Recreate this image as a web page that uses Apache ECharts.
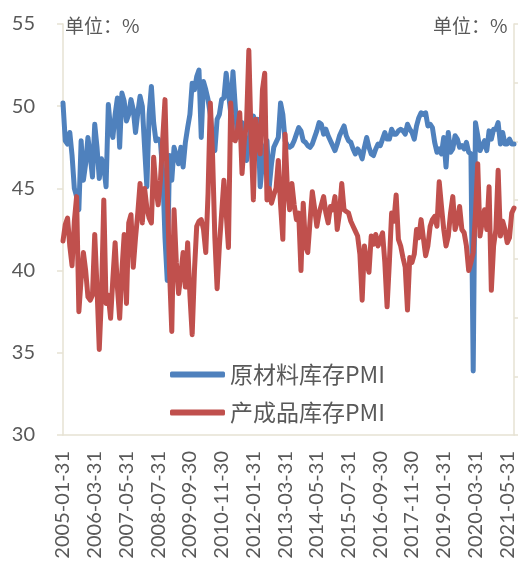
<!DOCTYPE html>
<html>
<head>
<meta charset="utf-8">
<script src="https://cdn.jsdelivr.net/npm/echarts@6/dist/echarts.min.js"></script>
<style>
  html, body { margin: 0; padding: 0; background: #ffffff; }
  #chart { width: 518px; height: 563px; }
</style>
</head>
<body>
<div id="chart"></div>
<script>
// Monthly series, 2005-01 through 2021-08
const startYear = 2005;
const startMonth = 1;
const monthCount = 200;

const seriesNames = ['原材料库存PMI', '产成品库存PMI'];

// 原材料库存PMI
const rawMaterialInv = [
  50.2, 47.9, 47.7, 48.4, 47.0, 45.0, 44.5, 43.7, 47.9, 45.5, 46.5, 48.1,
  47.0, 45.7, 48.9, 47.5, 45.6, 46.8, 46.3, 45.1, 50.1, 48.6, 48.1, 49.5,
  50.5, 47.5, 50.8, 50.3, 49.1, 49.5, 50.4, 49.8, 48.4, 49.6, 50.6, 50.0,
  47.5, 45.1, 49.5, 51.2, 49.0, 47.9, 48.0, 47.8, 46.0, 42.0, 39.4, 47.0,
  45.5, 47.5, 47.0, 46.5, 47.5, 46.3, 47.8, 48.7, 49.5, 51.4, 51.0, 51.8,
  52.2, 48.1, 51.5, 51.0, 50.4, 49.5, 47.8, 47.3, 49.2, 49.5, 50.4, 50.5,
  52.0, 50.8, 49.6, 52.1, 50.0, 48.1, 48.6, 49.0, 48.0, 46.7, 47.8, 49.0,
  49.4, 49.0, 49.2, 45.1, 46.5, 47.5, 47.9, 45.1, 46.5, 47.5, 47.8, 48.1,
  50.2, 49.5, 47.9, 47.6, 47.5, 47.6, 47.9, 48.3, 48.7, 48.5, 47.9, 47.8,
  47.6, 47.5, 47.7, 48.1, 48.5, 49.0, 48.9, 48.3, 48.6, 48.2, 47.9, 47.6,
  47.3, 47.7, 48.2, 48.5, 48.8, 48.2, 47.9, 47.8, 47.4, 47.1, 47.4, 47.2,
  46.8, 47.5, 48.1, 47.5, 47.1, 47.0, 47.4, 47.7, 47.6, 48.0, 48.4, 48.0,
  48.0, 48.6, 48.3, 48.3, 48.5, 48.6, 48.5, 48.3, 48.9, 48.6, 48.4, 48.0,
  48.8, 49.3, 49.6, 49.5, 49.6, 48.8, 48.9, 48.7, 47.8, 47.2, 47.4, 47.1,
  48.1, 46.3, 48.4, 47.2, 47.4, 48.2, 48.0, 47.5, 47.6, 47.4, 47.8, 47.2,
  47.1, 33.9, 49.0, 48.2, 47.3, 47.6, 47.9, 47.3, 48.5, 48.0, 48.6, 48.6,
  49.0, 47.7, 48.4, 47.7, 47.7, 48.0, 47.7, 47.7
];

// 产成品库存PMI
const finishedGoodsInv = [
  41.8, 42.8, 43.2, 41.5, 40.3, 43.0, 44.5, 37.5, 39.5, 41.1, 40.0, 38.4,
  38.2, 38.5, 42.2, 39.0, 35.2, 38.5, 44.3, 38.0, 38.5, 37.1, 39.5, 41.7,
  39.0, 37.1, 40.0, 42.2, 38.0, 42.9, 43.4, 40.2, 42.0, 43.5, 45.3, 42.9,
  45.0, 43.8, 43.2, 42.9, 46.9, 45.0, 44.0, 45.5, 48.0, 50.4, 45.0, 40.0,
  36.3, 43.7, 40.5, 38.6, 39.8, 41.1, 39.0, 41.7, 38.5, 36.1, 40.0, 42.7,
  43.0, 43.1, 42.5, 41.1, 44.7, 50.2, 47.0, 42.0, 38.9, 41.5, 43.5, 45.5,
  43.5, 41.4, 50.2, 48.0, 47.9, 48.5, 49.6, 45.9, 47.9, 49.0, 53.4, 48.0,
  44.3, 49.2, 48.0, 47.1, 51.0, 52.0, 44.3, 45.0, 44.1, 44.6, 45.0, 46.7,
  44.0, 41.9, 48.3, 45.0, 43.7, 45.3, 44.0, 43.1, 43.5, 40.0, 44.1, 41.5,
  41.1, 43.0, 44.8, 43.8, 42.7, 43.5, 44.0, 44.5, 43.5, 42.9, 43.9, 43.7,
  44.5, 42.5, 43.5, 45.3, 43.7, 43.6, 43.5, 43.0, 42.7, 42.4, 42.1, 41.0,
  38.2, 41.5, 40.5, 39.9, 42.1, 41.6, 42.2, 41.5, 41.9, 42.3, 40.5, 37.8,
  40.5, 43.5, 43.0, 44.6, 41.9, 41.5, 40.8, 40.2, 37.6, 40.8, 40.5, 41.0,
  42.5, 42.0, 43.1, 42.0, 40.9, 41.5, 42.7, 43.1, 43.3, 42.7, 45.4, 43.9,
  42.5, 41.5, 42.1, 43.5, 44.5, 42.5, 43.0, 43.9, 42.5, 42.3, 41.5, 40.0,
  40.5, 41.1, 43.5, 46.5, 42.1, 43.0, 43.7, 42.5, 45.1, 38.8, 41.5, 42.5,
  46.1, 42.1, 43.0, 42.5, 41.7, 42.0, 43.5, 43.8
];

const yTicks = { min: 30, max: 55, step: 5 };
const unitText = '单位：%';

// Month-end date labels for the category axis
function monthEnd(y, m) {
  const d = new Date(Date.UTC(y, m, 0)).getUTCDate();
  return y + '-' + String(m).padStart(2, '0') + '-' + String(d).padStart(2, '0');
}
const categories = [];
for (let k = 0; k < monthCount; k++) {
  const t = (startMonth - 1) + k;
  categories.push(monthEnd(startYear + Math.floor(t / 12), (t % 12) + 1));
}

const textColor = '#595959';
const axisColor = '#E6E2D3';
const latin = 'Lato, "Noto Sans", sans-serif';
const cjk = '"Noto Sans CJK SC", "Noto Sans", sans-serif';

const chart = echarts.init(document.getElementById('chart'), null, { renderer: 'canvas' });

chart.setOption({
  animation: false,
  backgroundColor: '#ffffff',
  grid: { left: 63, right: 4, top: 24, bottom: 128, containLabel: false },
  legend: {
    orient: 'vertical',
    left: 165,
    top: 356,
    itemWidth: 55,
    itemHeight: 6,
    itemGap: 11,
    icon: 'roundRect',
    data: seriesNames,
    textStyle: { color: textColor, fontSize: 23, fontFamily: cjk, lineHeight: 27, padding: [0, 0, 0, 0] }
  },
  xAxis: {
    type: 'category',
    boundaryGap: false,
    data: categories,
    axisLine: { show: true, lineStyle: { color: axisColor, width: 1.5 } },
    axisTick: { show: false },
    axisLabel: {
      interval: 13,
      rotate: 90,
      margin: 16,
      color: textColor,
      fontSize: 20,
      fontFamily: latin
    },
    splitLine: { show: false }
  },
  yAxis: [
    {
      type: 'value',
      position: 'left',
      min: yTicks.min,
      max: yTicks.max,
      interval: yTicks.step,
      axisLine: { show: true, lineStyle: { color: axisColor, width: 1.5 } },
      axisTick: { show: true, inside: false, length: 6, lineStyle: { color: axisColor, width: 1.5 } },
      axisLabel: { color: textColor, fontSize: 20, fontFamily: latin, margin: 28 },
      splitLine: { show: false }
    },
    {
      type: 'value',
      position: 'right',
      min: 0,
      max: 7,
      interval: 1,
      axisLine: { show: true, lineStyle: { color: axisColor, width: 1.5 } },
      axisTick: { show: true, inside: false, length: 5, lineStyle: { color: axisColor, width: 1.5 } },
      axisLabel: { show: false },
      splitLine: { show: false }
    }
  ],
  graphic: [
    {
      type: 'text',
      left: 65,
      top: 16,
      style: { text: unitText, fill: textColor, font: '19px ' + cjk }
    },
    {
      type: 'text',
      left: 433,
      top: 16,
      style: { text: unitText, fill: textColor, font: '19px ' + cjk }
    }
  ],
  series: [
    {
      name: seriesNames[0],
      type: 'line',
      data: rawMaterialInv,
      showSymbol: false,
      symbol: 'none',
      color: '#4F81BD',
      lineStyle: { width: 5, color: '#4F81BD', cap: 'round', join: 'round' },
      z: 2
    },
    {
      name: seriesNames[1],
      type: 'line',
      data: finishedGoodsInv,
      showSymbol: false,
      symbol: 'none',
      color: '#C0504D',
      lineStyle: { width: 5, color: '#C0504D', cap: 'round', join: 'round' },
      z: 3
    }
  ]
});
</script>
</body>
</html>
